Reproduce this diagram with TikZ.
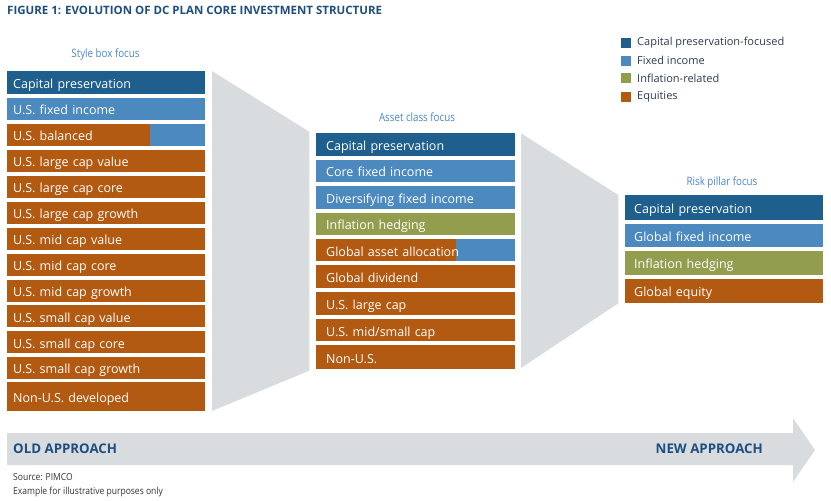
\documentclass[tikz,border=0pt]{standalone}
\usepackage{fontspec}
\setmainfont{Open Sans}
\newfontfamily\condfont[FakeStretch=0.85]{Open Sans}
\newfontfamily\srcfont[FakeStretch=0.88]{Open Sans}
\newfontfamily\boldfont{Open Sans Bold}
\definecolor{cpb}{HTML}{1F5F8E}
\definecolor{fib}{HTML}{4B89BF}
\definecolor{olv}{HTML}{939D4E}
\definecolor{eqo}{HTML}{B35A12}
\definecolor{gry}{HTML}{D9DCDF}
\definecolor{hdb}{HTML}{4A86C8}
\definecolor{ttl}{HTML}{1D4E7F}
\definecolor{lgt}{HTML}{2E3A4F}
\definecolor{src}{HTML}{333333}
\tikzset{
  cell/.style={rectangle, anchor=north west, inner ysep=0pt, align=left, text=white,
    text height=11.6pt, text depth=0pt, font=\fontsize{12.5}{14}\selectfont},
  lbox/.style={cell, minimum width=198pt, text width=186pt, inner xsep=6pt, minimum height=22pt},
  mbox/.style={cell, minimum width=199pt, text width=179pt, inner xsep=10pt},
  rbox/.style={cell, minimum width=198pt, text width=180pt, inner xsep=9pt},
  head/.style={text=hdb, font=\condfont\fontsize{11.5}{13}\selectfont, inner sep=0pt},
  legsq/.style={rectangle, minimum width=10pt, minimum height=10pt, inner sep=0pt, anchor=west},
  legtx/.style={anchor=west, inner sep=0pt, text=lgt, font=\fontsize{11}{13}\selectfont},
  appr/.style={inner sep=0pt, text=ttl, font=\boldfont\fontsize{13.3}{15}\selectfont},
  srct/.style={anchor=west, inner sep=0pt, text=src, font=\srcfont\fontsize{9.7}{11}\selectfont},
  funnel/.style={fill=gry},
  splitl/.style={path picture={\fill[eqo] (path picture bounding box.north west) rectangle ([xshift=143pt]path picture bounding box.south west);}},
  splitm/.style={path picture={\fill[eqo] (path picture bounding box.north west) rectangle ([xshift=140pt]path picture bounding box.south west);}}
}
\begin{document}
\begin{tikzpicture}[x=1pt,y=-1pt]
\useasboundingbox (0,0) rectangle (831,501);

% title
\node[anchor=west, inner sep=0pt, text=ttl, font=\boldfont\fontsize{11.5}{13}\selectfont] (title) at (7,10) {FIGURE 1: EVOLUTION OF DC PLAN CORE INVESTMENT STRUCTURE};

% legend
\node[legsq, fill=cpb] (lg1) at (621,42.5) {};
\node[legtx] (lt1) at (637,42.5) {Capital preservation-focused};
\node[legsq, fill=fib] (lg2) at (621,60.7) {};
\node[legtx] (lt2) at (637,60.7) {Fixed income};
\node[legsq, fill=olv] (lg3) at (621,78.3) {};
\node[legtx] (lt3) at (637,78.3) {Inflation-related};
\node[legsq, fill=eqo] (lg4) at (621,96.7) {};
\node[legtx] (lt4) at (637,96.7) {Equities};

% funnels
\fill[funnel] (212,71) -- (309.3,131.7) -- (309.3,370.7) -- (212,411) -- cycle;
\fill[funnel] (521,133.3) -- (618.3,195) -- (618.3,303.3) -- (521,368) -- cycle;

% headers
\node[head] (h1) at (105.5,54) {Style box focus};
\node[head] (h2) at (417,117) {Asset class focus};
\node[head] (h3) at (722,182) {Risk pillar focus};

% left column
\node[lbox, fill=cpb, minimum height=23pt] (s1) at (7,71) {Capital preservation};
\node[lbox, fill=fib] (s2) at (7,97.8) {U.S. fixed income};
\node[lbox, fill=fib, splitl] (s3) at (7,123.8) {U.S. balanced};
\node[lbox, fill=eqo] (s4) at (7,149.8) {U.S. large cap value};
\node[lbox, fill=eqo] (s5) at (7,175.7) {U.S. large cap core};
\node[lbox, fill=eqo] (s6) at (7,201.6) {U.S. large cap growth};
\node[lbox, fill=eqo] (s7) at (7,227.5) {U.S. mid cap value};
\node[lbox, fill=eqo] (s8) at (7,253.4) {U.S. mid cap core};
\node[lbox, fill=eqo] (s9) at (7,279.3) {U.S. mid cap growth};
\node[lbox, fill=eqo] (s10) at (7,305.2) {U.S. small cap value};
\node[lbox, fill=eqo] (s11) at (7,331.1) {U.S. small cap core};
\node[lbox, fill=eqo] (s12) at (7,356.7) {U.S. small cap growth};
\node[lbox, fill=eqo, minimum height=29.5pt] (s13) at (7,381.7) {Non-U.S. developed};

% middle column
\node[mbox, fill=cpb, minimum height=23pt] (a1) at (316,132.7) {Capital preservation};
\node[mbox, fill=fib, minimum height=21.7pt] (a2) at (316,160) {Core fixed income};
\node[mbox, fill=fib, minimum height=22.3pt] (a3) at (316,186) {Diversifying fixed income};
\node[mbox, fill=olv, minimum height=22.3pt] (a4) at (316,212.7) {Inflation hedging};
\node[mbox, fill=fib, splitm, minimum height=22pt] (a5) at (316,239) {Global asset allocation};
\node[mbox, fill=eqo, minimum height=22.3pt] (a6) at (316,265) {Global dividend};
\node[mbox, fill=eqo, minimum height=22.6pt] (a7) at (316,291.7) {U.S. large cap};
\node[mbox, fill=eqo, minimum height=22pt] (a8) at (316,319) {U.S. mid/small cap};
\node[mbox, fill=eqo, minimum height=24pt] (a9) at (316,345) {Non-U.S.};

% right column
\node[rbox, fill=cpb, minimum height=24.5pt] (r1) at (625,195) {Capital preservation};
\node[rbox, fill=fib, minimum height=22.7pt] (r2) at (625,224) {Global fixed income};
\node[rbox, fill=olv, minimum height=23.3pt] (r3) at (625,251) {Inflation hedging};
\node[rbox, fill=eqo, minimum height=23.7pt] (r4) at (625,279) {Global equity};

% approach arrow
\fill[funnel] (7,433) -- (793,433) -- (793,418) -- (815,450) -- (793,482) -- (793,465) -- (7,465) -- cycle;
\node[appr, anchor=west] (old) at (13,449) {OLD APPROACH};
\node[appr, anchor=east] (new) at (763,449) {NEW APPROACH};

% source
\node[srct] (src1) at (13,477) {Source: PIMCO};
\node[srct] (src2) at (13,492) {Example for illustrative purposes only};
\end{tikzpicture}
\end{document}
